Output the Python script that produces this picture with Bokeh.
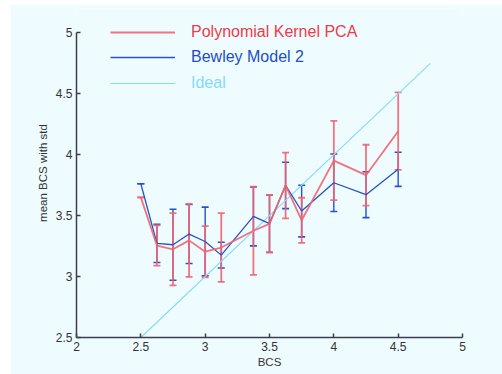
from bokeh.plotting import figure
from bokeh.models import (ColumnDataSource, Whisker, TeeHead, FixedTicker,
                          Range1d, Legend, LegendItem)
from bokeh.embed import file_html
from bokeh.resources import INLINE

# BCS levels and the per-level mean / std of the predicted BCS
bcs = [2.5, 2.625, 2.75, 2.875, 3.0, 3.125, 3.375, 3.5, 3.625, 3.75, 4.0, 4.25, 4.5]

kpca_mean = [3.65, 3.255, 3.224, 3.297, 3.204, 3.238, 3.376, 3.433, 3.748, 3.462, 3.952, 3.832, 4.193]
kpca_std = [0.0, 0.165, 0.297, 0.300, 0.210, 0.282, 0.362, 0.237, 0.270, 0.185, 0.325, 0.250, 0.318]

bewley_mean = [3.762, 3.272, 3.261, 3.349, 3.288, 3.176, 3.494, 3.435, 3.748, 3.538, 3.770, 3.672, 3.880]
bewley_std = [0.0, 0.156, 0.291, 0.242, 0.282, 0.106, 0.242, 0.235, 0.190, 0.212, 0.236, 0.188, 0.140]

ideal_x = [2.5, 4.75]
ideal_y = [2.5, 4.75]

x_ticks = [2, 2.5, 3, 3.5, 4, 4.5, 5]
y_ticks = [2.5, 3, 3.5, 4, 4.5, 5]

RED = "#f2646e"
RED_TEXT = "#f03a46"
BLUE = "#2453c6"
BLUE_TEXT = "#1d4ec4"
CYAN = "#86daf8"
BG = "#effcff"
AXIS = "#3c3c4c"
FONT = "Liberation Sans"

# the y range runs a little past 5 so the legend above the axis top is not clipped;
# the axis itself is bounded to 2.5..5
p = figure(width=492, height=370, output_backend="svg", toolbar_location=None,
           x_range=Range1d(2, 5), y_range=Range1d(2.5, 5.2),
           min_border_left=66, min_border_right=40,
           min_border_top=4, min_border_bottom=37)
p.margin = (4, 0, 0, 10)
p.background_fill_color = BG
p.border_fill_color = BG
p.outline_line_color = None
p.xgrid.visible = False
p.ygrid.visible = False

for ax in (p.xaxis[0], p.yaxis[0]):
    ax.axis_line_color = AXIS
    ax.axis_line_width = 1.5
    ax.major_tick_line_color = AXIS
    ax.major_tick_line_width = 1.5
    ax.major_tick_in = 4
    ax.major_tick_out = 0
    ax.minor_tick_line_color = None
    ax.major_label_text_font = FONT
    ax.major_label_text_font_size = "12px"
    ax.major_label_text_color = "#333333"
    ax.axis_label_text_font = FONT
    ax.axis_label_text_font_size = "11.5px"
    ax.axis_label_text_font_style = "normal"
    ax.axis_label_text_color = "#333333"

p.xaxis.ticker = FixedTicker(ticks=x_ticks)
p.yaxis.ticker = FixedTicker(ticks=y_ticks)
p.yaxis.bounds = (2.5, 5)
p.xaxis.axis_label = "BCS"
p.yaxis.axis_label = "mean BCS with std"
p.xaxis.major_label_standoff = 4
p.xaxis.axis_label_standoff = 2
p.yaxis.major_label_standoff = 4
p.yaxis.axis_label_standoff = 4

# reference diagonal
r_ideal = p.line(ideal_x, ideal_y, line_color=CYAN, line_width=1.1)

# Bewley model: mean line with std whiskers
blue_src = ColumnDataSource(dict(
    x=bcs, y=bewley_mean,
    lo=[m - s for m, s in zip(bewley_mean, bewley_std)],
    hi=[m + s for m, s in zip(bewley_mean, bewley_std)]))
p.add_layout(Whisker(source=blue_src, base="x", lower="lo", upper="hi",
                     line_color=BLUE, line_width=1.4,
                     upper_head=TeeHead(size=7, line_color=BLUE, line_width=1.6),
                     lower_head=TeeHead(size=7, line_color=BLUE, line_width=1.6)))
r_blue = p.line("x", "y", source=blue_src, line_color=BLUE, line_width=1.3)

# polynomial kernel PCA: mean line with std whiskers
red_src = ColumnDataSource(dict(
    x=bcs, y=kpca_mean,
    lo=[m - s for m, s in zip(kpca_mean, kpca_std)],
    hi=[m + s for m, s in zip(kpca_mean, kpca_std)]))
p.add_layout(Whisker(source=red_src, base="x", lower="lo", upper="hi",
                     line_color=RED, line_width=1.8, line_alpha=0.9,
                     upper_head=TeeHead(size=7, line_color=RED, line_width=1.8, line_alpha=0.9),
                     lower_head=TeeHead(size=7, line_color=RED, line_width=1.8, line_alpha=0.9)))
r_red = p.line("x", "y", source=red_src, line_color=RED, line_width=1.8, line_alpha=0.9)

# one legend per entry so each label keeps its own colour
entries = [("Polynomial Kernel PCA", r_red, RED_TEXT, 296),
           ("Bewley Model 2", r_blue, BLUE_TEXT, 271),
           ("Ideal", r_ideal, CYAN, 245)]
for label, rend, color, ypos in entries:
    lg = Legend(items=[LegendItem(label=label, renderers=[rend])],
                location=(34, ypos), padding=0, margin=0, spacing=0,
                glyph_width=65, glyph_height=16, label_height=16,
                label_standoff=16, label_text_font=FONT,
                label_text_font_size="16px", label_text_color=color,
                border_line_color=None, background_fill_alpha=0)
    p.add_layout(lg, "center")

open("out.html", "w").write(file_html(p, INLINE))
